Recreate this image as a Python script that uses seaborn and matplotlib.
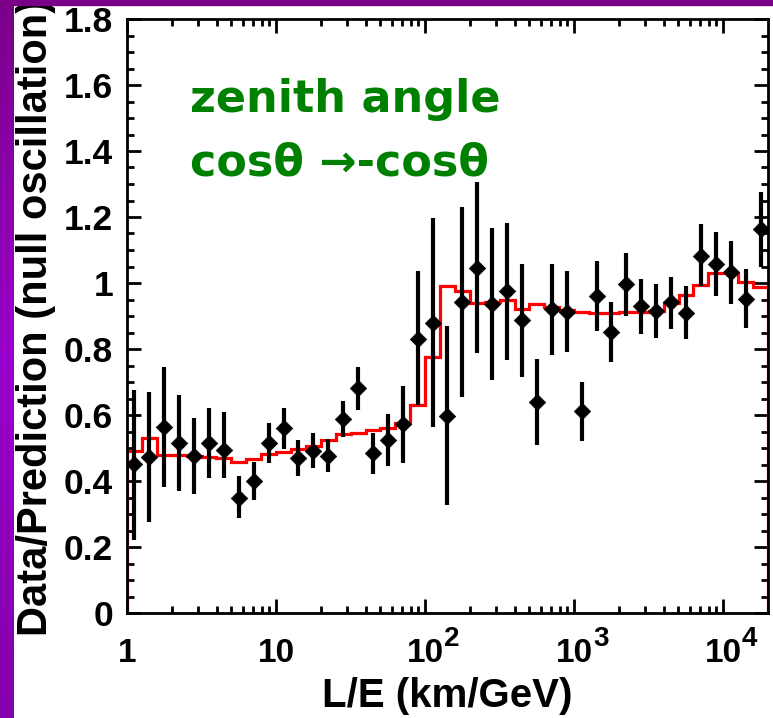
import numpy as np
import pandas as pd
import matplotlib
matplotlib.use('Agg')
import matplotlib.pyplot as plt
import seaborn as sns
from matplotlib.colors import LinearSegmentedColormap
from matplotlib.patches import Rectangle
from matplotlib.ticker import FixedLocator, LogLocator, MultipleLocator, FuncFormatter, NullFormatter

# Binning in log10(L/E): 43 bins of 0.1 decade from 1 to 10^4.3 km/GeV
log_edges = np.linspace(0.0, 4.3, 44)

# Expected (oscillation fit) / null-oscillation, one value per bin
expected = [0.490, 0.531, 0.479, 0.478, 0.476, 0.474, 0.471, 0.459, 0.467, 0.481,
            0.489, 0.496, 0.506, 0.524, 0.541, 0.546, 0.555, 0.562, 0.577, 0.630,
            0.777, 0.991, 0.977, 0.940, 0.943, 0.948, 0.921, 0.936, 0.926, 0.918,
            0.912, 0.908, 0.910, 0.912, 0.913, 0.915, 0.938, 0.964, 0.994, 1.031,
            1.029, 1.004, 0.989]

# Data / prediction points with error bar ends
ratio = [0.452, 0.474, 0.564, 0.515, 0.477, 0.515, 0.495, 0.349, 0.401, 0.514,
         0.560, 0.469, 0.492, 0.476, 0.588, 0.681, 0.484, 0.524, 0.573, 0.830,
         0.880, 0.598, 0.943, 1.046, 0.935, 0.975, 0.888, 0.640, 0.920, 0.913,
         0.612, 0.962, 0.852, 0.997, 0.930, 0.915, 0.941, 0.910, 1.083, 1.058,
         1.032, 0.952, 1.164]
ratio_lo = [0.221, 0.277, 0.383, 0.371, 0.360, 0.408, 0.408, 0.287, 0.342, 0.454,
            0.496, 0.415, 0.438, 0.428, 0.532, 0.615, 0.421, 0.445, 0.454, 0.630,
            0.563, 0.327, 0.654, 0.787, 0.706, 0.767, 0.716, 0.509, 0.782, 0.792,
            0.521, 0.856, 0.762, 0.901, 0.845, 0.832, 0.860, 0.829, 0.991, 0.961,
            0.936, 0.863, 1.049]
ratio_hi = [0.676, 0.671, 0.745, 0.661, 0.592, 0.620, 0.610, 0.414, 0.459, 0.577,
            0.620, 0.524, 0.544, 0.526, 0.642, 0.746, 0.544, 0.603, 0.689, 1.036,
            1.196, 0.871, 1.231, 1.305, 1.166, 1.183, 1.058, 0.770, 1.058, 1.036,
            0.699, 1.067, 0.942, 1.090, 1.012, 0.996, 1.019, 0.991, 1.179, 1.154,
            1.127, 1.041, 1.277]

x_tick_vals = [1, 10, 100, 1000, 10000]
x_tick_text = ['1', '10', '10', '10', '10']
x_tick_exp = ['', '', '2', '3', '4']

# Build dataframe of points
edges = 10 ** log_edges
centers = 10 ** ((log_edges[:-1] + log_edges[1:]) / 2)
df = pd.DataFrame({'le': centers, 'ratio': ratio, 'lo': ratio_lo, 'hi': ratio_hi})

sns.set_style('ticks')
plt.rcParams['font.family'] = ['Liberation Sans', 'DejaVu Sans']
plt.rcParams['font.weight'] = 'bold'
plt.rcParams['text.color'] = 'black'
plt.rcParams['axes.labelcolor'] = 'black'
plt.rcParams['xtick.color'] = 'black'
plt.rcParams['ytick.color'] = 'black'

fig = plt.figure(figsize=(7.73, 7.18), dpi=100)
fig.patch.set_facecolor('white')

# purple slide background strips
fig.patches.append(Rectangle((0, 1 - 5 / 718), 1, 5 / 718, transform=fig.transFigure,
                             color='#7a0088', zorder=0))
strip = fig.add_axes([0, 0, 14 / 773, 1])
strip.imshow(np.linspace(0, 1, 100).reshape(-1, 1), aspect='auto',
             cmap=LinearSegmentedColormap.from_list('slide', ['#7a0088', '#9b00cc', '#8400aa']))
strip.axis('off')

ax = fig.add_axes([127 / 773, 105 / 718, 641 / 773, 594 / 718])

# red expectation histogram
ax.stairs(expected, edges, baseline=0, color='red', linewidth=2.3, zorder=2)

# data points with error bars
ax.errorbar(df['le'], df['ratio'], yerr=[df['ratio'] - df['lo'], df['hi'] - df['ratio']],
            fmt='none', ecolor='black', elinewidth=3, capsize=0, zorder=3)
sns.scatterplot(data=df, x='le', y='ratio', marker='D', s=70, color='black',
                edgecolor='black', linewidth=0.5, ax=ax, zorder=4, legend=False)

ax.set_xscale('log')
ax.set_xlim(edges[0], edges[-1])
ax.set_ylim(0, 1.8)

ax.xaxis.set_major_locator(FixedLocator(x_tick_vals))
ax.set_xticklabels(x_tick_text)
ax.xaxis.set_minor_locator(LogLocator(base=10, subs=np.arange(2, 10), numticks=20))
ax.xaxis.set_minor_formatter(NullFormatter())
ax.yaxis.set_major_locator(MultipleLocator(0.2))
ax.yaxis.set_minor_locator(MultipleLocator(0.05))
ax.yaxis.set_major_formatter(FuncFormatter(lambda v, p: f'{v:g}'))

ax.tick_params(which='both', direction='in', top=True, right=True, width=2,
               colors='black', labelcolor='black')
ax.tick_params(which='major', length=10)
ax.tick_params(which='minor', length=5)
ax.tick_params(axis='x', which='major', pad=18, labelsize=24)
ax.tick_params(axis='y', which='major', pad=10, labelsize=25.5)
for s in ax.spines.values():
    s.set_linewidth(2)
    s.set_color('black')

# ROOT-style exponents on the decade labels
for v, e in zip(x_tick_vals, x_tick_exp):
    if e:
        ax.annotate(e, xy=(v, 0), xycoords=('data', 'axes fraction'), xytext=(13.5, -24),
                    textcoords='offset points', ha='left', va='baseline', fontsize=20,
                    fontweight='bold', color='black', annotation_clip=False)

ax.set_xlabel('L/E (km/GeV)', fontsize=29, fontweight='bold', color='black')
ax.xaxis.set_label_coords(0.5, -0.108)
ax.set_ylabel('Data/Prediction (null oscillation)', fontsize=30, fontweight='bold', color='black')
ax.yaxis.set_label_coords(-0.110, 0.497)

# green annotation
ax.text(0.098, 0.843, 'zenith angle', transform=ax.transAxes, color='#008000',
        fontsize=32, fontweight='bold', family=['DejaVu Sans'], va='baseline')
ax.text(0.098, 0.737, 'cos\u03b8 \u2192-cos\u03b8', transform=ax.transAxes, color='#008000',
        fontsize=32, fontweight='bold', family=['DejaVu Sans'], va='baseline')

fig.savefig('out.png', dpi=100)
